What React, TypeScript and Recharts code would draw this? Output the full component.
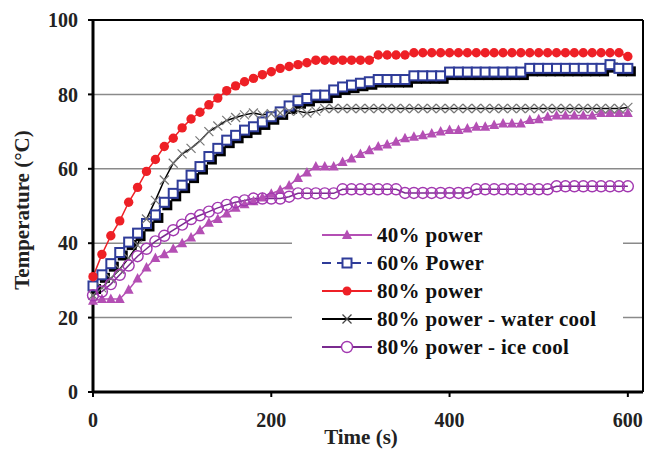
import { LineChart, Line, XAxis, YAxis, CartesianGrid, ReferenceLine, Legend } from 'recharts'

// time (s), one reading every 10 s
const TIME = [
  0, 10, 20, 30, 40, 50, 60, 70, 80, 90, 100, 110, 120, 130, 140, 150, 160, 170, 180, 190,
  200, 210, 220, 230, 240, 250, 260, 270, 280, 290, 300, 310, 320, 330, 340, 350, 360, 370, 380, 390,
  400, 410, 420, 430, 440, 450, 460, 470, 480, 490, 500, 510, 520, 530, 540, 550, 560, 570, 580, 590, 600,
]

const POWER_40 = [
  24.5, 25, 25, 25, 27.5, 30.5, 33.5, 36, 37, 38.5, 40, 41.5, 43.5, 45.5, 46.5, 48, 49.5, 50.5, 51.3, 52.3,
  53.3, 54.3, 55.5, 57.5, 59, 60.6, 60.6, 60.6, 61.8, 62.8, 64, 65, 66, 66.5, 67.3, 68.2, 68.6, 69, 69.5, 70,
  70.4, 70.4, 70.8, 71.3, 71.3, 71.8, 72.2, 72.2, 72.2, 73.1, 73.3, 74, 74.3, 74.3, 74.3, 74.3, 74.3, 75, 75, 75, 75,
]

const POWER_60 = [
  28.5, 31.5, 34.5, 37.5, 40.3, 42.7, 45.3, 47.6, 51, 53.4, 55.6, 58.3, 60.6, 63.3, 65.5, 67.7, 69, 70.4, 71.3, 72.6,
  74, 75.3, 76.9, 78.3, 78.9, 79.8, 79.8, 81.2, 82, 82.5, 83, 83.4, 84, 84, 84, 84, 85, 85, 85, 85,
  86, 86, 86, 86, 86, 86, 86, 86, 86, 87, 87, 87, 87, 87, 87, 87, 87, 87, 88, 87, 87,
]

const POWER_80 = [
  31, 37, 42, 46, 51, 55, 59.3, 62.5, 66, 68.2, 71, 73.4, 75.2, 77.2, 79, 81, 82.3, 83.4, 84.3, 85.3,
  86.1, 87, 87.5, 88, 88.5, 89.2, 89.2, 89.2, 89.2, 89.2, 89.2, 89.2, 90.6, 90.6, 90.6, 90.6, 91.2, 91.2, 91.2, 91.2,
  91.2, 91.2, 91.2, 91.2, 91.2, 91.2, 91.2, 91.2, 91.2, 91.2, 91.2, 91.2, 91.2, 91.2, 91.2, 91.2, 91.2, 91.2, 91.2, 91.2, 90.2,
]

const WATER_COOL = [
  26, 28, 30.5, 33, 36, 39.5, 46.5, 51.5, 57, 61.5, 64, 65.5, 67.5, 70, 71.5, 73, 73.8, 74.5, 75, 74.5,
  74.8, 75, 75.5, 75.5, 75, 75.5, 76.2, 76.2, 76.2, 76.2, 76.2, 76.2, 76.2, 76.2, 76.2, 76.2, 76.2, 76.2, 76.2, 76.2,
  76.2, 76.2, 76.2, 76.2, 76.2, 76.2, 76.2, 76.2, 76.2, 76.2, 76.2, 76.2, 76.2, 76.2, 76.2, 76.2, 76.2, 76.2, 76.2, 76.2, 76.5,
]

const ICE_COOL = [
  26, 27, 29, 31.5, 34, 36.5, 38.5, 40.5, 42, 43.5, 45, 46.5, 47.5, 48.5, 49.5, 50.3, 51, 51.5, 52, 52,
  52, 52, 52.5, 53.4, 53.4, 53.4, 53.4, 53.4, 54.5, 54.5, 54.5, 54.5, 54.5, 54.5, 54.5, 53.5, 53.5, 53.5, 53.5, 53.5,
  53.5, 53.5, 53.5, 54.5, 54.5, 54.5, 54.5, 54.5, 54.5, 54.5, 54.5, 54.5, 55.3, 55.3, 55.3, 55.3, 55.3, 55.3, 55.3, 55.3, 55.3,
]

const X_TICKS = [0, 200, 400, 600]
const Y_TICKS = [0, 20, 40, 60, 80, 100]

const data = TIME.map((t, i) => ({
  t,
  p40: POWER_40[i],
  p60: POWER_60[i],
  p80: POWER_80[i],
  water: WATER_COOL[i],
  ice: ICE_COOL[i],
}))

const FONT = '"Liberation Serif", "Times New Roman", serif'
const RED = '#ee2026'
const BLUE = '#2f3c99'
const MAGENTA = '#b44fb4'
const PURPLE = '#a238b0'
const PURPLE_LINE = '#7a2b8f'
const X_MAX = 617

const tickStyle = { fill: '#222', fontFamily: FONT, fontWeight: 700, fontSize: 20 }

const triangle = (cx: number, cy: number, color: string) => (
  <polygon points={`${cx},${cy - 5.5} ${cx - 5},${cy + 4} ${cx + 5},${cy + 4}`} fill={color} />
)
const square = (cx: number, cy: number) => (
  <rect x={cx - 4.5} y={cy - 4.5} width={9} height={9} fill="#fff" stroke={BLUE} strokeWidth={2} />
)
const cross = (cx: number, cy: number, color: string) => (
  <g stroke={color} strokeWidth={1.2}>
    <line x1={cx - 4.5} y1={cy - 4.5} x2={cx + 4.5} y2={cy + 4.5} />
    <line x1={cx - 4.5} y1={cy + 4.5} x2={cx + 4.5} y2={cy - 4.5} />
  </g>
)

const TriDot = (p: any) => <g key={`a${p.index}`}>{triangle(p.cx, p.cy, MAGENTA)}</g>
const SquareDot = (p: any) => (
  <g key={`b${p.index}`}>
    <rect x={p.cx - 2} y={p.cy - 2} width={10} height={10} fill="#000" />
    {square(p.cx, p.cy)}
  </g>
)
const RedDot = (p: any) => <circle key={`c${p.index}`} cx={p.cx} cy={p.cy} r={4.7} fill={RED} />
const CrossDot = (p: any) => <g key={`d${p.index}`}>{cross(p.cx, p.cy, '#777')}</g>
const RingDot = (p: any) => (
  <circle key={`e${p.index}`} cx={p.cx} cy={p.cy} r={5.5} fill="none" stroke={PURPLE} strokeWidth={1.4} />
)

const LEGEND_ITEMS = [
  { name: '40% power', color: MAGENTA, dash: undefined, mark: (x: number, y: number) => triangle(x, y, MAGENTA) },
  { name: '60% Power', color: BLUE, dash: '9 6', mark: (x: number, y: number) => square(x, y) },
  { name: '80% power', color: RED, dash: undefined, mark: (x: number, y: number) => <circle cx={x} cy={y} r={4.5} fill={RED} /> },
  { name: '80% power - water cool', color: '#000', dash: undefined, mark: (x: number, y: number) => cross(x, y, '#444') },
  { name: '80% power - ice cool', color: PURPLE_LINE, dash: undefined, mark: (x: number, y: number) => <circle cx={x} cy={y} r={5.5} fill="#fff" stroke={PURPLE} strokeWidth={1.4} /> },
]

function LegendBox() {
  return (
    <div style={{ background: '#fff', width: 331, height: 150 }}>
      {LEGEND_ITEMS.map((item) => (
        <div key={item.name} style={{ display: 'flex', alignItems: 'center', height: 28 }}>
          <svg width={85} height={28} style={{ flex: 'none' }}>
            <line x1={30} y1={14} x2={80} y2={14} stroke={item.color} strokeWidth={2} strokeDasharray={item.dash} />
            {item.mark(55, 14)}
          </svg>
          <span style={{ fontFamily: FONT, fontWeight: 700, fontSize: 21, letterSpacing: 0.3, color: '#111', whiteSpace: 'nowrap' }}>
            {item.name}
          </span>
        </div>
      ))}
    </div>
  )
}

const YTitle = () => (
  <text
    x={22}
    y={210}
    transform="rotate(-90 22 210)"
    textAnchor="middle"
    dominantBaseline="central"
    style={{ fontFamily: FONT, fontWeight: 700, fontSize: 21, fill: '#222' }}
  >
    Temperature (°C)
  </text>
)

const XTitle = () => (
  <text
    x={361}
    y={437}
    textAnchor="middle"
    dominantBaseline="central"
    style={{ fontFamily: FONT, fontWeight: 700, fontSize: 21, fill: '#222' }}
  >
    Time (s)
  </text>
)

export default function App() {
  return (
    <div style={{ position: 'absolute', left: 0, top: 0, background: '#fff' }}>
      <LineChart width={647} height={457} data={data} margin={{ top: 20, right: 4, left: 0, bottom: 0 }}>
        <CartesianGrid horizontal vertical={false} horizontalValues={[20, 40, 60, 80]} stroke="#8a8a8a" strokeWidth={1.5} />
        <XAxis
          dataKey="t"
          type="number"
          domain={[0, X_MAX]}
          ticks={X_TICKS}
          height={65}
          tick={tickStyle}
          tickSize={5}
          tickMargin={16}
          axisLine={{ stroke: '#000', strokeWidth: 3 }}
          tickLine={{ stroke: '#000', strokeWidth: 2 }}
          label={<XTitle />}
        />
        <YAxis
          type="number"
          domain={[0, 100]}
          ticks={Y_TICKS}
          width={93}
          tick={tickStyle}
          tickSize={5}
          tickMargin={10}
          axisLine={{ stroke: '#000', strokeWidth: 3 }}
          tickLine={{ stroke: '#000', strokeWidth: 2 }}
          label={<YTitle />}
        />
        <ReferenceLine y={100} stroke="#000" strokeWidth={2} />
        <ReferenceLine x={X_MAX} stroke="#000" strokeWidth={2} />
        <Legend
          layout="vertical"
          align="center"
          verticalAlign="middle"
          content={() => <LegendBox />}
          wrapperStyle={{ left: 292, top: 221, width: 331, height: 150 }}
        />
        <Line dataKey="p40" name="40% power" stroke={MAGENTA} strokeWidth={1.5} dot={TriDot} isAnimationActive={false} />
        <Line dataKey="p60" name="60% Power" stroke={BLUE} strokeWidth={1.5} dot={SquareDot} isAnimationActive={false} />
        <Line dataKey="p80" name="80% power" stroke={RED} strokeWidth={1.5} dot={RedDot} isAnimationActive={false} />
        <Line dataKey="water" name="80% power - water cool" stroke="#000" strokeWidth={1.5} dot={CrossDot} isAnimationActive={false} />
        <Line dataKey="ice" name="80% power - ice cool" stroke={PURPLE_LINE} strokeWidth={1.5} dot={RingDot} isAnimationActive={false} />
      </LineChart>
    </div>
  )
}
